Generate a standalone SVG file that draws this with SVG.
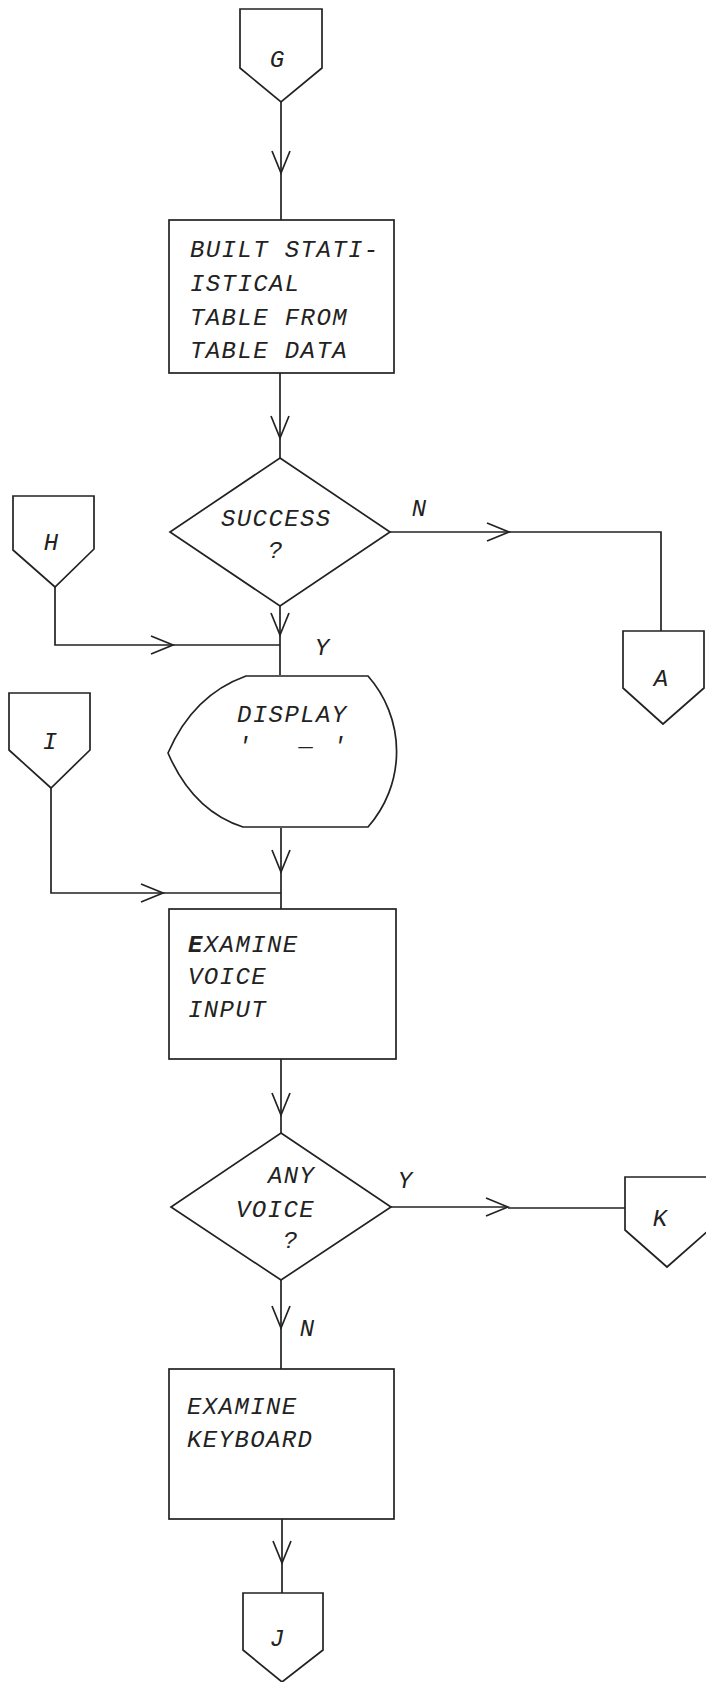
<svg xmlns="http://www.w3.org/2000/svg" width="706" height="1682" viewBox="0 0 706 1682">
<style>
.s{fill:#fff;stroke:#222;stroke-width:1.7;stroke-linejoin:miter}
.c{fill:none;stroke:#222;stroke-width:1.7}
.t{font-family:"Liberation Mono","DejaVu Sans Mono",monospace;font-style:italic;font-size:24px;letter-spacing:1.4px;fill:#222}
.l{font-family:"Liberation Mono","DejaVu Sans Mono",monospace;font-style:italic;font-size:24px;fill:#222;text-anchor:middle}
</style>
<defs>
<marker id="v" markerUnits="userSpaceOnUse" markerWidth="26" markerHeight="22" viewBox="0 0 26 22" refX="23" refY="11" orient="auto">
<path d="M1,2 L23,11 L1,20" fill="none" stroke="#222" stroke-width="1.7"/>
</marker>
</defs>
<rect width="706" height="1682" fill="#fff"/>

<g id="connectors">
<path class="c" d="M281,102 V173" marker-end="url(#v)"/><path class="c" d="M281,173 V220"/>
<path class="c" d="M280,373 V438" marker-end="url(#v)"/><path class="c" d="M280,438 V458"/>
<path class="c" d="M390,532 H509" marker-end="url(#v)"/><path class="c" d="M509,532 H661 V631"/>
<path class="c" d="M280,606 V635" marker-end="url(#v)"/><path class="c" d="M280,635 V675"/>
<path class="c" d="M55,587 V645 H173" marker-end="url(#v)"/><path class="c" d="M173,645 H280"/>
<path class="c" d="M281,828 V872" marker-end="url(#v)"/><path class="c" d="M281,872 V909"/>
<path class="c" d="M51,788 V893 H163" marker-end="url(#v)"/><path class="c" d="M163,893 H281"/>
<path class="c" d="M281,1059 V1115" marker-end="url(#v)"/><path class="c" d="M281,1115 V1133"/>
<path class="c" d="M391,1207 H508" marker-end="url(#v)"/><path class="c" d="M508,1208 H625"/>
<path class="c" d="M281,1280 V1328" marker-end="url(#v)"/><path class="c" d="M281,1328 V1369"/>
<path class="c" d="M282,1519 V1563" marker-end="url(#v)"/><path class="c" d="M282,1563 V1593"/>
</g>

<g id="G"><path class="s" d="M240,9 H322 V68 L281,102 L240,68 Z"/><text class="l" x="277" y="67">G</text></g>

<g id="build"><rect class="s" x="169" y="220" width="225" height="153"/>
<text class="t" x="190" y="257">BUILT STATI-</text>
<text class="t" x="190" y="291">ISTICAL</text>
<text class="t" x="190" y="325">TABLE FROM</text>
<text class="t" x="190" y="358">TABLE DATA</text></g>

<g id="success"><path class="s" d="M280,458 L390,532 L280,606 L170,532 Z"/>
<text class="t" x="221" y="526">SUCCESS</text>
<text class="t" x="268" y="558">?</text></g>
<text class="l" x="419" y="516">N</text>
<text class="l" x="322" y="655">Y</text>

<g id="H"><path class="s" d="M13,496 H94 V549 L55,587 L13,550 Z"/><text class="l" x="51" y="550">H</text></g>

<g id="A"><path class="s" d="M623,631 H704 V688 L663,724 L623,688 Z"/><text class="l" x="661" y="686">A</text></g>

<g id="display"><path class="s" d="M246,676 H368 A114,114 0 0 1 368,827 H243 Q193,811 168,753 Q193,695 246,676 Z"/>
<text class="t" x="237" y="722">DISPLAY</text>
<text class="t" x="237" y="754">'</text>
<text class="t" x="300" y="746">_</text>
<text class="t" x="332" y="754">'</text></g>

<g id="I"><path class="s" d="M9,693 H90 V750 L51,788 L9,750 Z"/><text class="l" x="50" y="749">I</text></g>

<g id="voice"><rect class="s" x="169" y="909" width="227" height="150"/>
<text class="t" x="188" y="952"><tspan font-weight="bold">E</tspan>XAMINE</text>
<text class="t" x="188" y="984">VOICE</text>
<text class="t" x="188" y="1017">INPUT</text></g>

<g id="anyvoice"><path class="s" d="M281,1133 L391,1207 L281,1280 L171,1207 Z"/>
<text class="t" x="268" y="1183">ANY</text>
<text class="t" x="236" y="1217">VOICE</text>
<text class="t" x="283" y="1248">?</text></g>
<text class="l" x="405" y="1188">Y</text>
<text class="l" x="307" y="1336">N</text>

<g id="K"><path class="s" d="M625,1177 H709 V1230 L667,1267 L625,1230 Z"/><text class="l" x="660" y="1226">K</text></g>

<g id="keyboard"><rect class="s" x="169" y="1369" width="225" height="150"/>
<text class="t" x="187" y="1414">EXAMINE</text>
<text class="t" x="187" y="1447">KEYBOARD</text></g>

<g id="J"><path class="s" d="M243,1593 H323 V1650 L282,1682 L243,1650 Z"/><text class="l" x="277" y="1646">J</text></g>
</svg>
